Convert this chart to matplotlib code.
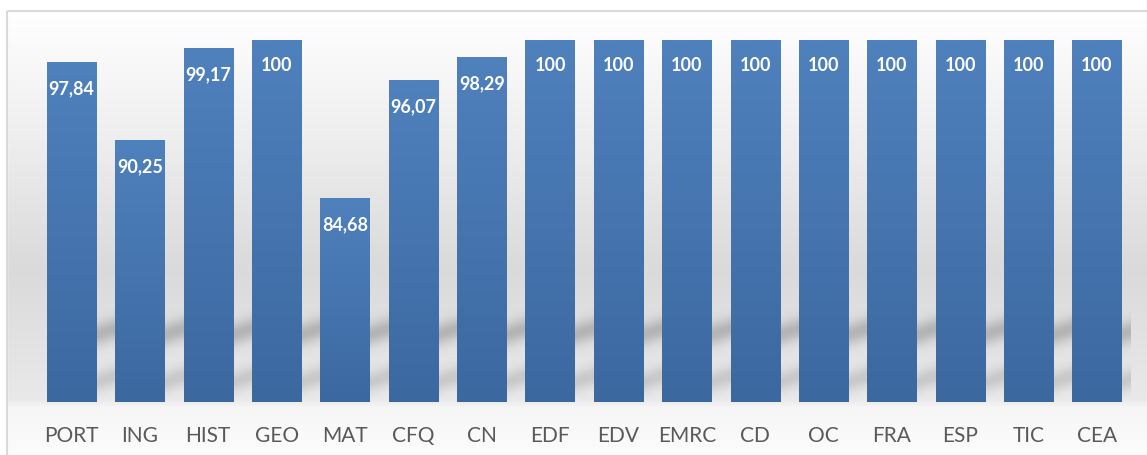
import matplotlib
matplotlib.use("Agg")
import matplotlib.pyplot as plt
import numpy as np
from matplotlib.patches import Rectangle

# data
subjects = ["PORT", "ING", "HIST", "GEO", "MAT", "CFQ", "CN", "EDF",
            "EDV", "EMRC", "CD", "OC", "FRA", "ESP", "TIC", "CEA"]
scores = [97.84, 90.25, 99.17, 100, 84.68, 96.07, 98.29, 100,
          100, 100, 100, 100, 100, 100, 100, 100]

plt.rcParams['font.family'] = ['Lato', 'DejaVu Sans']

W, H = 1147, 456
fig = plt.figure(figsize=(W / 100, H / 100), dpi=100)

# background: white page, grey gradient inside the chart frame
bg = fig.add_axes([0, 0, 1, 1])
rows = np.arange(H)
shade = np.interp(rows, [12, 140, 270, 400, 408, 456], [255, 238, 218, 233, 246, 252]) / 255
img = np.repeat(shade[:, None, None], 3, axis=2)
bg.imshow(img, extent=(7, W, H, 0), aspect='auto', interpolation='bilinear')
bg.add_patch(Rectangle((0, 0), W, 12, color='white', zorder=2))
bg.add_patch(Rectangle((0, 0), 7, H, color='white', zorder=2))
bg.add_patch(Rectangle((7, 12), W + 10, H, fill=False, ec='#d9d9d9', lw=1.5, zorder=3))
bg.set_xlim(0, W)
bg.set_ylim(H, 0)
bg.axis('off')

ymin, ymax = 65, 100
ax = fig.add_axes([37.3 / W, (H - 403) / H, (1131.2 - 37.3) / W, (403 - 41) / H])
ax.patch.set_alpha(0)
for s in ax.spines.values():
    s.set_visible(False)

x = np.arange(len(subjects))
bw = 0.72

# blurred slanted shadow streaks in the gaps to the right of each bar
sx = np.linspace(-0.5, len(subjects) - 0.5, 2000)
sy = np.linspace(ymin, ymin + 11, 300)
XX, YY = np.meshgrid(sx, sy)
idx = np.clip(np.searchsorted(x + bw / 2, XX, side='right') - 1, 0, len(x) - 1)
u = XX - (x[idx] + bw / 2)
yy = YY - 2.1 * np.clip(u, 0, None)
dark = 0.20 * np.exp(-((yy - 71.5) / 1.1) ** 2) + 0.13 * np.exp(-((yy - 66.9) / 1.0) ** 2)
dark *= np.clip((YY - ymin) / 0.6, 0, 1)
dark[XX < x[0] + bw / 2] = 0
shadow = np.zeros(XX.shape + (4,))
shadow[..., 3] = dark
ax.imshow(shadow, extent=(sx[0], sx[-1], sy[0], sy[-1]), origin='lower',
          aspect='auto', interpolation='bilinear', zorder=1)

bars = ax.bar(x, scores, width=bw, bottom=0, color='#4a7ab5', zorder=2)

# vertical gradient on every bar
grad = np.linspace(0, 1, 100)[:, None]
top = np.array([79, 129, 189]) / 255
bot = np.array([60, 104, 160]) / 255
bar_img = top[None, None, :] * (1 - grad[..., None]) + bot[None, None, :] * grad[..., None]
for b, v in zip(bars, scores):
    x0 = b.get_x()
    ax.imshow(bar_img, extent=(x0, x0 + b.get_width(), ymin, v), aspect='auto',
              interpolation='bilinear', zorder=3)

for xi, v in zip(x, scores):
    txt = "100" if v == 100 else f"{v:.2f}".replace('.', ',')
    ax.annotate(txt, (xi, v), xytext=(0, -18), textcoords='offset points',
                ha='center', va='center', color='white', fontsize=13,
                fontweight='bold', zorder=4)

ax.set_xlim(-0.5, len(subjects) - 0.5)
ax.set_ylim(ymin, ymax)
ax.set_yticks([])
ax.set_xticks(x)
ax.set_xticklabels(subjects, fontsize=15, color='#595959')
ax.tick_params(axis='x', length=0, pad=16.5)

fig.savefig("out.png", dpi=100)
